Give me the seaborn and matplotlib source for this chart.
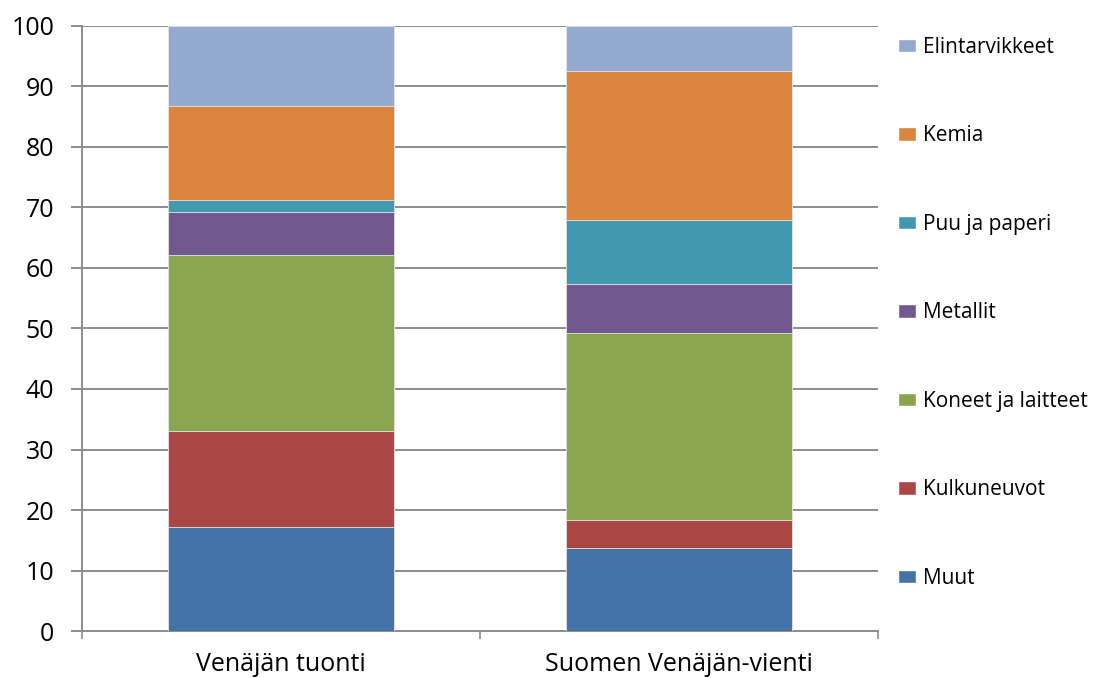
import numpy as np
import pandas as pd
import seaborn as sns
import matplotlib.pyplot as plt
from matplotlib.patches import Patch

groups = ["Venäjän tuonti", "Suomen Venäjän-vienti"]
sectors = ["Muut", "Kulkuneuvot", "Koneet ja laitteet", "Metallit",
           "Puu ja paperi", "Kemia", "Elintarvikkeet"]
tuonti = [17.2, 15.8, 29.2, 7.0, 2.1, 15.5, 13.2]
vienti = [13.8, 4.6, 30.8, 8.1, 10.7, 24.6, 7.4]
colors = ["#4573A7", "#AA4643", "#89A54E", "#71588F", "#4198AF", "#DB843D", "#93A9CF"]

sns.set_theme(style="white")
plt.rcParams['font.family'] = ['Open Sans', 'DejaVu Sans']
plt.rcParams['text.color'] = 'black'
plt.rcParams['xtick.labelcolor'] = 'black'
plt.rcParams['ytick.labelcolor'] = 'black'

df = pd.DataFrame({"group": groups})
cum = np.cumsum(np.array([tuonti, vienti]), axis=1)

fig = plt.figure(figsize=(11.05, 6.78), dpi=100)
ax = fig.add_axes([0.0742, 0.0693, 0.7204, 0.8924])

# draw cumulative bars from the top segment down so each one covers the next
for i in range(len(sectors) - 1, -1, -1):
    df["value"] = cum[:, i]
    sns.barplot(data=df, x="group", y="value", color=colors[i], width=0.57,
                saturation=1, edgecolor="#e6e6e6", linewidth=0.6, ax=ax, zorder=3)

ax.set_ylim(0, 100)
ax.set_xlim(-0.5, 1.5)
ax.set_yticks(range(0, 101, 10))
ax.yaxis.grid(True, color="#8c8c8c", linewidth=1.4)
ax.set_axisbelow(True)
ax.set_xlabel("")
ax.set_ylabel("")
ax.set_xticks([0, 1])
ax.set_xticklabels(groups, fontsize=18)
ax.set_xticks([-0.5, 0.5, 1.5], minor=True)
ax.tick_params(axis="x", which="major", length=0, pad=15)
ax.tick_params(axis="x", which="minor", length=6, width=1.2, color="#8c8c8c", bottom=True)
ax.tick_params(axis="y", length=8, width=1.4, color="#8c8c8c", labelsize=18, pad=12, left=True)
for s in ["top", "right"]:
    ax.spines[s].set_visible(False)
for s in ["left", "bottom"]:
    ax.spines[s].set_color("#8c8c8c")
    ax.spines[s].set_linewidth(1.4)

handles = [Patch(facecolor=colors[i], label=sectors[i]) for i in range(len(sectors) - 1, -1, -1)]
fig.legend(handles=handles, loc="upper left", bbox_to_anchor=(0.805, 0.958),
           frameon=False, fontsize=15, labelspacing=3.24, handlelength=0.85,
           handleheight=0.65, handletextpad=0.35, borderaxespad=0)

fig.savefig("out.png", dpi=100)
